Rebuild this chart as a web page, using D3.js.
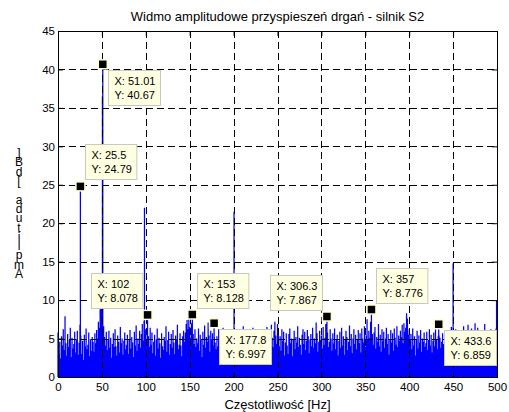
<!DOCTYPE html>
<html>
<head>
<meta charset="utf-8">
<script src="https://cdn.jsdelivr.net/npm/d3@7"></script>
<style>
body { margin: 0; background: #fff; }
text { font-family: "Liberation Sans", Arial, Helvetica, sans-serif; }
</style>
</head>
<body>
<div id="chart"></div>
<script>
// amplitude spectrum, one value per 1 Hz (0..500 Hz)
var noise = [
  5.8, 3.1, 4.6, 2.4, 5.3, 4.1, 6.2, 3.5, 7.9, 4.4, 2.8, 5.6, 3.9, 4.8, 6.4, 2.6, 5.1, 3.7, 4.3, 5.9,
  3.2, 4.9, 6.0, 2.9, 4.5, 6.8, 5.4, 3.0, 4.7, 2.2, 5.5, 4.0, 6.3, 3.6, 4.2, 5.8, 2.7, 4.9, 3.4, 5.2,
  4.6, 3.3, 5.7, 4.4, 6.1, 5.0, 7.2, 6.4, 8.8, 9.6, 10.3, 7.5, 6.6, 5.2, 4.1, 5.9, 3.5, 4.8, 6.0, 3.8,
  5.1, 2.5, 4.3, 5.7, 3.9, 6.2, 4.0, 2.8, 5.4, 4.6, 3.2, 6.5, 4.4, 5.0, 2.9, 4.7, 5.8, 3.6, 4.2, 5.5,
  3.0, 4.8, 6.1, 3.7, 5.2, 4.5, 2.6, 5.9, 4.1, 6.7, 3.4, 5.0, 4.3, 6.0, 3.8, 5.6, 6.9, 4.7, 7.3, 5.5,
  6.2, 4.9, 5.1, 5.3, 3.9, 6.4, 4.2, 5.8, 3.1, 4.6, 5.5, 2.8, 4.9, 6.3, 3.7, 5.1, 4.4, 2.5, 5.7, 4.0,
  3.5, 5.2, 4.7, 6.6, 3.3, 4.8, 5.9, 2.9, 4.3, 5.6, 3.8, 6.1, 4.5, 3.0, 5.4, 4.9, 6.8, 3.6, 4.2, 5.7,
  4.1, 2.7, 5.3, 6.0, 4.6, 5.8, 6.9, 7.4, 6.2, 7.8, 6.5, 5.1, 7.0, 5.9, 5.6, 4.3, 6.2, 3.9, 5.0, 4.4,
  6.3, 3.4, 5.5, 4.8, 2.6, 5.9, 4.2, 6.7, 3.8, 5.2, 4.6, 7.1, 5.4, 3.3, 6.0, 4.9, 5.7, 4.1, 5.2, 4.5,
  3.6, 5.3, 4.0, 6.2, 2.9, 4.7, 5.6, 3.5, 6.4, 4.3, 5.0, 2.7, 4.8, 6.1, 3.9, 5.4, 4.6, 3.1, 5.8, 4.2,
  5.5, 6.3, 3.7, 4.9, 5.8, 2.8, 4.4, 6.0, 3.6, 5.2, 4.1, 6.6, 3.4, 4.7, 5.5, 2.5, 4.9, 5.9, 3.8, 4.6,
  5.2, 3.3, 6.4, 4.5, 5.0, 2.9, 4.2, 5.7, 6.2, 3.7, 4.8, 5.4, 3.0, 6.1, 4.4, 5.6, 3.5, 4.9, 6.5, 4.0,
  3.2, 5.5, 4.6, 6.8, 5.1, 3.9, 6.0, 7.2, 5.4, 4.3, 6.9, 5.8, 4.0, 5.3, 3.4, 6.2, 4.7, 5.9, 2.8, 4.5,
  5.7, 4.1, 3.0, 5.6, 6.3, 4.4, 5.0, 2.7, 4.8, 6.0, 3.6, 5.2, 4.5, 6.6, 3.9, 5.1, 4.2, 2.9, 5.5, 6.2,
  4.3, 5.9, 3.5, 4.7, 6.1, 5.3, 3.1, 4.9, 5.6, 4.0, 6.4, 3.8, 5.0, 4.4, 7.1, 5.7, 3.3, 4.6, 6.0, 4.8,
  5.4, 3.7, 6.5, 4.2, 5.1, 6.9, 6.2, 5.8, 3.9, 4.6, 6.2, 5.0, 3.4, 5.7, 4.4, 6.3, 3.6, 4.9, 5.5, 2.8,
  4.7, 5.9, 3.8, 6.4, 4.1, 5.3, 2.9, 4.8, 6.0, 5.2, 3.5, 4.6, 6.7, 4.0, 5.6, 3.1, 5.0, 6.2, 4.3, 5.5,
  3.6, 4.9, 6.1, 4.4, 5.7, 3.2, 6.3, 5.0, 4.5, 6.6, 3.9, 5.4, 7.5, 4.8, 6.0, 5.1, 7.2, 6.4, 5.6, 4.2,
  5.8, 6.5, 3.7, 5.2, 4.6, 6.9, 4.0, 5.5, 3.3, 6.2, 4.7, 5.9, 3.8, 5.0, 6.4, 4.3, 5.6, 2.9, 4.8, 6.1,
  4.5, 5.7, 3.4, 6.3, 5.1, 4.2, 6.6, 3.9, 5.4, 4.7, 6.0, 5.2, 6.8, 4.4, 7.0, 5.9, 6.4, 8.3, 7.6, 5.5,
  6.2, 4.8, 5.6, 3.6, 6.3, 4.1, 5.3, 2.8, 4.9, 6.0, 3.7, 5.4, 4.5, 6.1, 3.3, 5.0, 4.6, 5.8, 3.9, 4.4,
  5.9, 3.5, 4.8, 6.2, 4.1, 5.5, 3.2, 4.7, 5.8, 4.0, 6.3, 4.9, 3.6, 5.3, 5.4, 5.1, 3.8, 4.6, 5.7, 4.3,
  3.4, 5.6, 4.2, 6.0, 3.9, 4.8, 5.4, 3.1, 6.5, 4.4, 5.8, 5.0, 3.6, 6.2, 4.7, 5.3, 2.9, 4.5, 6.1, 3.8,
  5.2, 4.0, 6.6, 3.7, 4.9, 5.7, 3.3, 6.8, 4.6, 5.1, 4.2, 6.3, 3.5, 5.5, 4.8, 7.0, 3.9, 5.0, 6.4, 4.1,
  5.3, 3.6, 6.1, 4.7, 5.9, 4.3, 6.9, 3.8, 5.2, 4.4, 6.0, 5.6, 3.4, 6.2, 4.9, 5.0, 3.7, 5.8, 4.5, 6.3,
  4.8
];

// distinct spectral lines
var peakFreq = [25.5, 50.6, 51.01, 98.5, 200.5, 450, 499.5];
var peakAmp  = [24.79, 36.5, 40.67, 22.0, 21.5, 14.8, 10.0];

// data tips
var tipX = [51.01, 25.5, 102, 153, 177.8, 306.3, 357, 433.6];
var tipY = [40.67, 24.79, 8.078, 8.128, 6.997, 7.867, 8.776, 6.859];
var tipXLabel = ["51.01", "25.5", "102", "153", "177.8", "306.3", "357", "433.6"];
var tipYLabel = ["40.67", "24.79", "8.078", "8.128", "6.997", "7.867", "8.776", "6.859"];
var tipSide = ["dr", "ur", "ul", "ur", "dr", "ul", "ur", "dr"];

var xTicks = [0, 50, 100, 150, 200, 250, 300, 350, 400, 450, 500];
var yTicks = [0, 5, 10, 15, 20, 25, 30, 35, 40, 45];

var titleText = "Widmo amplitudowe przyspieszeń drgań - silnik S2";
var xLabelText = "Częstotliwość [Hz]";
var yLabelText = "Amplituda [dB]";

var width = 509, height = 412;
var plotL = 58, plotR = 497, plotT = 31, plotB = 377;

var x = d3.scaleLinear().domain([0, 500]).range([plotL, plotR]);
var y = d3.scaleLinear().domain([0, 45]).range([plotB, plotT]);

var svg = d3.select("#chart").append("svg")
    .attr("width", width)
    .attr("height", height);

svg.append("rect")
    .attr("width", width).attr("height", height)
    .attr("fill", "#fff");

// spectrum drawn as stems from zero
var pts = noise.map(function(v, i) { return [i, v]; });
peakFreq.forEach(function(f, i) { pts.push([f, peakAmp[i]]); });
tipX.forEach(function(f, i) { pts.push([f, tipY[i]]); });

var d = "";
pts.forEach(function(p) {
    d += "M" + x(p[0]) + "," + y(0) + "V" + y(p[1]);
});
svg.append("path")
    .attr("d", d)
    .attr("stroke", "#0000ff")
    .attr("stroke-width", 1.25)
    .attr("fill", "none");

// grid
var grid = svg.append("g")
    .attr("stroke", "#000")
    .attr("stroke-width", 1)
    .attr("stroke-dasharray", "7,4");
grid.selectAll(".gx").data(xTicks.slice(1, -1)).enter().append("line")
    .attr("x1", function(v) { return Math.round(x(v)) + 0.5; })
    .attr("x2", function(v) { return Math.round(x(v)) + 0.5; })
    .attr("y1", plotT).attr("y2", plotB);
grid.selectAll(".gy").data(yTicks.slice(1, -1)).enter().append("line")
    .attr("y1", function(v) { return Math.round(y(v)) + 0.5; })
    .attr("y2", function(v) { return Math.round(y(v)) + 0.5; })
    .attr("x1", plotL).attr("x2", plotR);

// axes
function styleAxis(g) {
    g.select(".domain").remove();
    g.selectAll("line").attr("stroke", "#000");
    g.selectAll("text").attr("font-size", 11.5).attr("fill", "#000")
        .style("font-family", "'Liberation Sans', Arial, sans-serif");
}
svg.append("g")
    .attr("transform", "translate(0," + plotB + ")")
    .call(d3.axisBottom(x).tickValues(xTicks).tickSizeInner(-5).tickSizeOuter(0).tickPadding(6))
    .call(styleAxis);
svg.append("g")
    .attr("transform", "translate(0," + plotT + ")")
    .call(d3.axisTop(x).tickValues(xTicks).tickSizeInner(-5).tickSizeOuter(0).tickFormat(""))
    .call(styleAxis);
svg.append("g")
    .attr("transform", "translate(" + plotL + ",0)")
    .call(d3.axisLeft(y).tickValues(yTicks).tickSizeInner(-5).tickSizeOuter(0).tickPadding(3))
    .call(styleAxis);
svg.append("g")
    .attr("transform", "translate(" + plotR + ",0)")
    .call(d3.axisRight(y).tickValues(yTicks).tickSizeInner(-5).tickSizeOuter(0).tickFormat(""))
    .call(styleAxis);

svg.append("rect")
    .attr("x", plotL + 0.5).attr("y", plotT + 0.5)
    .attr("width", plotR - plotL).attr("height", plotB - plotT)
    .attr("fill", "none").attr("stroke", "#000").attr("stroke-width", 1);

// titles
svg.append("text")
    .attr("x", (plotL + plotR) / 2).attr("y", 21)
    .attr("text-anchor", "middle").attr("font-size", 13)
    .text(titleText);
svg.append("text")
    .attr("x", (plotL + plotR) / 2).attr("y", 409)
    .attr("text-anchor", "middle").attr("font-size", 13)
    .text(xLabelText);

// y label: characters stacked upright, bottom to top
yLabelText.split("").forEach(function(ch, i) {
    if (ch === " ") return;
    svg.append("text")
        .attr("x", 19).attr("y", 278 - i * 9.3)
        .attr("text-anchor", "middle").attr("font-size", 12)
        .text(ch);
});

// data tips
var tips = svg.append("g");
tipX.forEach(function(f, i) {
    var mx = x(f), my = y(tipY[i]);
    var g = tips.append("g");
    var box = g.append("rect");
    var t1 = g.append("text").attr("font-size", 11).text("X: " + tipXLabel[i]);
    var t2 = g.append("text").attr("font-size", 11).text("Y: " + tipYLabel[i]);
    var w = Math.max(t1.node().getComputedTextLength(), t2.node().getComputedTextLength()) + 11;
    var h = 35;
    var side = tipSide[i];
    var bx = side.charAt(1) === "r" ? mx + 5 : mx - 5 - w;
    var by = side.charAt(0) === "d" ? my + 6 : my - 7 - h;
    bx = Math.round(bx) + 0.5; by = Math.round(by) + 0.5;
    box.attr("x", bx).attr("y", by).attr("width", w).attr("height", h)
        .attr("fill", "#ffffe1").attr("stroke", "#c8c8c0").attr("stroke-width", 1);
    t1.attr("x", bx + 6).attr("y", by + 14);
    t2.attr("x", bx + 6).attr("y", by + 28);
    g.append("rect")
        .attr("x", mx - 4.5).attr("y", my - 4.5)
        .attr("width", 9).attr("height", 9)
        .attr("fill", "#000").attr("stroke", "#ffffd0").attr("stroke-width", 1.5);
});
</script>
</body>
</html>
